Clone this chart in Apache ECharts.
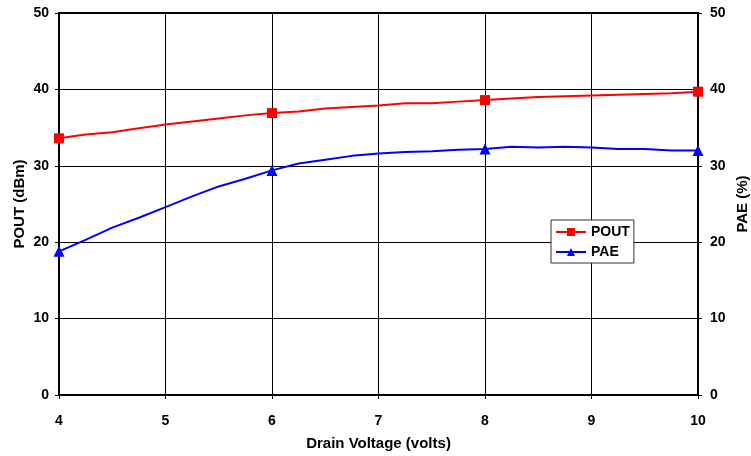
<!DOCTYPE html>
<html>
<head>
<meta charset="utf-8">
<script src="https://cdn.jsdelivr.net/npm/echarts@6/dist/echarts.min.js"></script>
<style>
  html, body { margin: 0; padding: 0; background: #fff; }
  #chart { width: 751px; height: 456px; }
</style>
</head>
<body>
<div id="chart"></div>
<script>
  // drain voltage sweep, 0.25 V steps
  const voltage = [4, 4.25, 4.5, 4.75, 5, 5.25, 5.5, 5.75, 6, 6.25, 6.5, 6.75, 7,
    7.25, 7.5, 7.75, 8, 8.25, 8.5, 8.75, 9, 9.25, 9.5, 9.75, 10];
  const pout = [33.6, 34.1, 34.4, 34.9, 35.4, 35.8, 36.2, 36.6, 36.9, 37.1, 37.5, 37.7, 37.9,
    38.2, 38.2, 38.4, 38.6, 38.8, 39.0, 39.1, 39.2, 39.3, 39.4, 39.5, 39.7];
  const pae = [18.8, 20.3, 21.9, 23.2, 24.6, 26.0, 27.3, 28.3, 29.4, 30.3, 30.8, 31.3, 31.6,
    31.8, 31.9, 32.1, 32.2, 32.5, 32.4, 32.5, 32.4, 32.2, 32.2, 32.0, 32.0];
  // markers only drawn at these voltages
  const markerAt = [4, 6, 8, 10];

  const font = 'Liberation Sans, Arial, sans-serif';

  function toData(vals) {
    return voltage.map(function (v, i) {
      const item = {value: [v, vals[i]]};
      if (markerAt.indexOf(v) < 0) item.symbol = 'none';
      return item;
    });
  }

  const tickStyle = {color: '#000', fontFamily: font, fontWeight: 'bold', fontSize: 14};
  const nameStyle = {color: '#000', fontFamily: font, fontWeight: 'bold', fontSize: 15};

  const myChart = echarts.init(document.getElementById('chart'));
  const option = {
    animation: false,
    backgroundColor: '#fff',
    grid: {
      left: 59, right: 53, top: 13, bottom: 61,
      outerBoundsMode: 'none',
      containLabel: false,
      show: true, borderColor: '#000', borderWidth: 2
    },
    legend: {
      orient: 'vertical',
      left: 551, top: 220,
      padding: [5, 4, 4, 4],
      itemGap: 6,
      itemWidth: 30, itemHeight: 10,
      backgroundColor: '#fff',
      borderColor: '#333', borderWidth: 1,
      textStyle: {color: '#000', fontFamily: font, fontWeight: 'bold', fontSize: 14},
      data: ['POUT', 'PAE']
    },
    xAxis: {
      type: 'value',
      min: 4, max: 10, interval: 1,
      name: 'Drain Voltage (volts)',
      nameLocation: 'middle',
      nameGap: 41,
      nameMoveOverlap: false,
      nameTextStyle: nameStyle,
      axisLine: {lineStyle: {color: '#000', width: 2}},
      axisTick: {show: true, length: 4, lineStyle: {color: '#000'}},
      axisLabel: Object.assign({margin: 19}, tickStyle),
      splitLine: {show: true, lineStyle: {color: '#000', width: 1}}
    },
    yAxis: [
      {
        type: 'value',
        min: 0, max: 50, interval: 10,
        name: 'POUT (dBm)',
        nameLocation: 'middle',
        nameGap: 32,
        nameMoveOverlap: false,
        nameTextStyle: nameStyle,
        axisLine: {show: true, lineStyle: {color: '#000', width: 2}},
        axisTick: {show: true, length: 4, lineStyle: {color: '#000'}},
        axisLabel: Object.assign({margin: 10}, tickStyle),
        splitLine: {show: true, lineStyle: {color: '#000', width: 1}}
      },
      {
        type: 'value',
        min: 0, max: 50, interval: 10,
        name: 'PAE (%)',
        nameLocation: 'middle',
        nameGap: 37,
        nameRotate: 90,
        nameMoveOverlap: false,
        nameTextStyle: nameStyle,
        axisLine: {show: true, lineStyle: {color: '#000', width: 2}},
        axisTick: {show: true, length: 4, lineStyle: {color: '#000'}},
        axisLabel: Object.assign({margin: 12}, tickStyle),
        splitLine: {show: false}
      }
    ],
    series: [
      {
        name: 'POUT',
        type: 'line',
        yAxisIndex: 0,
        symbol: 'rect',
        symbolSize: 10,
        showAllSymbol: true,
        lineStyle: {color: '#ff0000', width: 2},
        itemStyle: {color: '#ff0000'},
        data: toData(pout)
      },
      {
        name: 'PAE',
        type: 'line',
        yAxisIndex: 1,
        symbol: 'triangle',
        symbolSize: 11,
        showAllSymbol: true,
        lineStyle: {color: '#0000ff', width: 2},
        itemStyle: {color: '#0000ff'},
        data: toData(pae)
      }
    ]
  };
  myChart.setOption(option);
</script>
</body>
</html>
